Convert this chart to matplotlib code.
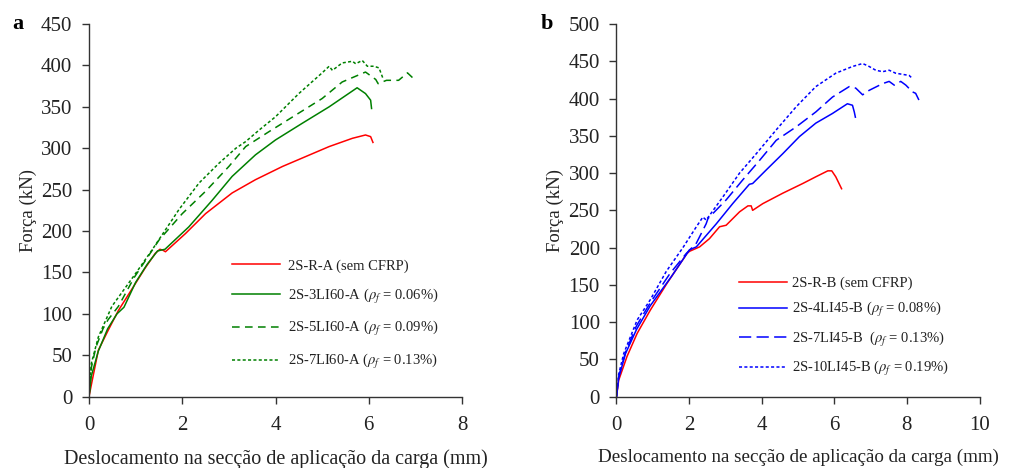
import matplotlib
matplotlib.use("Agg")
import matplotlib.pyplot as plt

# ---- data ----
# panel a
ra_x = [0, 0.06, 0.2, 0.41, 0.63, 1.0, 1.2, 1.42, 1.52, 1.58, 1.64, 2.07, 2.5, 3.07, 3.57, 4.15, 4.65, 5.15, 5.65, 5.93, 6.04, 6.09]
ra_y = [0, 17, 56, 80, 104, 137, 155, 173, 178, 177, 175, 197, 221, 246, 262, 278, 290, 302, 312, 316, 314, 307]

a3_x = [0, 0.05, 0.2, 0.4, 0.6, 0.75, 1.0, 1.25, 1.47, 1.55, 1.63, 2.14, 2.64, 3.07, 3.57, 4.0, 4.57, 5.15, 5.75, 5.93, 6.04, 6.06]
a3_y = [0, 25, 55, 82, 100, 108, 138, 160, 176, 177, 178, 205, 237, 266, 292, 310, 330, 350, 373, 366, 358, 348]

a5_x = [0, 0.05, 0.15, 0.3, 0.41, 0.63, 0.97, 1.5, 2.0, 2.5, 3.0, 3.36, 3.86, 4.43, 5.0, 5.43, 5.93, 6.15, 6.2, 6.38, 6.64, 6.83, 7.0]
a5_y = [0, 35, 60, 82, 93, 109, 144, 189, 221, 248, 278, 302, 320, 340, 360, 380, 392, 383, 378, 382, 382, 391, 382]

a7_x = [0, 0.05, 0.2, 0.49, 0.99, 1.35, 1.93, 2.36, 2.79, 3.15, 3.36, 3.65, 4.0, 4.5, 5.0, 5.15, 5.22, 5.43, 5.65, 5.72, 5.86, 5.97, 6.11, 6.22, 6.3]
a7_y = [0, 40, 72, 109, 148, 177, 226, 258, 282, 300, 308, 322, 338, 366, 391, 399, 394, 403, 405, 402, 406, 399, 399, 397, 385]

# panel b
rb_x = [0, 0.06, 0.29, 0.57, 0.93, 1.39, 1.94, 2.01, 2.29, 2.56, 2.84, 3.02, 3.39, 3.62, 3.71, 3.75, 4.03, 4.58, 5.13, 5.49, 5.82, 5.93, 6.04, 6.2]
rb_y = [0, 22, 54, 85, 116, 152, 192, 195, 201, 212, 228, 230, 248, 256, 256, 250, 259, 273, 286, 295, 303, 303, 295, 279]

b4_x = [0, 0.06, 0.25, 0.55, 0.93, 1.51, 2.01, 2.2, 2.75, 3.2, 3.66, 3.75, 4.12, 4.58, 5.04, 5.49, 5.95, 6.36, 6.5, 6.55, 6.58]
b4_y = [0, 25, 58, 90, 122, 161, 197, 201, 232, 259, 285, 286, 304, 326, 349, 367, 380, 393, 391, 382, 375]

b7_x = [0, 0.06, 0.25, 0.55, 0.93, 1.47, 1.92, 2.2, 2.47, 2.52, 3.02, 3.48, 3.94, 4.4, 4.95, 5.49, 5.95, 6.41, 6.59, 6.78, 6.96, 7.33, 7.51, 7.65, 7.83, 7.97, 8.15, 8.24, 8.33]
b7_y = [0, 27, 60, 95, 126, 165, 192, 206, 232, 239, 264, 291, 317, 344, 362, 382, 402, 416, 414, 405, 411, 420, 423, 418, 423, 418, 409, 407, 398]

b10_x = [0, 0.06, 0.2, 0.57, 0.93, 1.37, 1.83, 2.2, 2.38, 2.47, 2.93, 3.39, 3.85, 4.4, 4.95, 5.49, 6.04, 6.5, 6.78, 6.96, 7.14, 7.33, 7.51, 7.69, 8.06, 8.15]
b10_y = [0, 30, 58, 103, 130, 168, 200, 228, 241, 237, 268, 300, 326, 358, 389, 416, 434, 443, 447, 443, 438, 436, 438, 434, 431, 427]

labels_a = [r"2S-R-A (sem CFRP)",
            r"2S-3LI60-A ($\rho_f$ = 0.06%)",
            r"2S-5LI60-A ($\rho_f$ = 0.09%)",
            r"2S-7LI60-A ($\rho_f$ = 0.13%)"]
labels_b = [r"2S-R-B (sem CFRP)",
            r"2S-4LI45-B ($\rho_f$ = 0.08%)",
            r"2S-7LI45-B  ($\rho_f$ = 0.13%)",
            r"2S-10LI45-B ($\rho_f$ = 0.19%)"]

xlabel = "Deslocamento na secção de aplicação da carga (mm)"
ylabel = "Força (kN)"

plt.rcParams["font.family"] = ["Liberation Serif", "DejaVu Serif"]
plt.rcParams["mathtext.fontset"] = "stix"
txt = "#222222"

fig = plt.figure(figsize=(10.09, 4.68), dpi=100)
ax1 = fig.add_axes([0.0882, 0.1524, 0.3697, 0.7963])
ax2 = fig.add_axes([0.611, 0.1524, 0.3598, 0.7963])

lw = 1.1
ax1.plot(ra_x, ra_y, color="#ff0000", lw=lw, label=labels_a[0])
ax1.plot(a3_x, a3_y, color="#008000", lw=lw, label=labels_a[1])
ax1.plot(a5_x, a5_y, color="#008000", lw=lw, dashes=(5, 3.5), label=labels_a[2])
ax1.plot(a7_x, a7_y, color="#008000", lw=lw, dashes=(2, 1.5), label=labels_a[3])

ax2.plot(rb_x, rb_y, color="#ff0000", lw=lw, label=labels_b[0])
ax2.plot(b4_x, b4_y, color="#0000ff", lw=lw, label=labels_b[1])
ax2.plot(b7_x, b7_y, color="#0000ff", lw=lw, dashes=(8, 3.5), label=labels_b[2])
ax2.plot(b10_x, b10_y, color="#0000ff", lw=lw, dashes=(2, 1.5), label=labels_b[3])

for ax, xmax, ymax, xls in [(ax1, 8, 450, 14.5), (ax2, 10, 500, 13.7)]:
    ax.set_xlim(0, xmax)
    ax.set_ylim(0, ymax)
    ax.set_xticks(range(0, xmax + 1, 2))
    ax.set_yticks(range(0, ymax + 1, 50))
    for s in ["top", "right"]:
        ax.spines[s].set_visible(False)
    for s in ["left", "bottom"]:
        ax.spines[s].set_color("#333333")
        ax.spines[s].set_linewidth(1.0)
    ax.tick_params(direction="out", length=5, width=1.0, colors="#333333",
                   labelsize=15, labelcolor=txt)
    ax.tick_params(axis="x", pad=9)
    ax.tick_params(axis="y", pad=7)
    ax.set_xlabel(xlabel, fontsize=xls, color=txt, labelpad=10)
    ax.set_ylabel(ylabel, fontsize=13.5, color=txt, labelpad=3)

ax1.legend(loc="upper left", bbox_to_anchor=(0.383, 0.369), frameon=False,
           fontsize=10.5, handlelength=3.3, handletextpad=0.55, labelspacing=0.95,
           borderpad=0, borderaxespad=0, labelcolor=txt)
ax2.legend(loc="upper left", bbox_to_anchor=(0.337, 0.322), frameon=False,
           fontsize=10.5, handlelength=3.3, handletextpad=0.35, labelspacing=0.7,
           borderpad=0, borderaxespad=0, labelcolor=txt)

fig.text(12 / 1009, 1 - 24 / 468, "a", fontsize=16, fontweight="bold", va="center", color="black")
fig.text(541 / 1009, 1 - 24 / 468, "b", fontsize=16, fontweight="bold", va="center", color="black")

fig.savefig("out.png", dpi=100)
